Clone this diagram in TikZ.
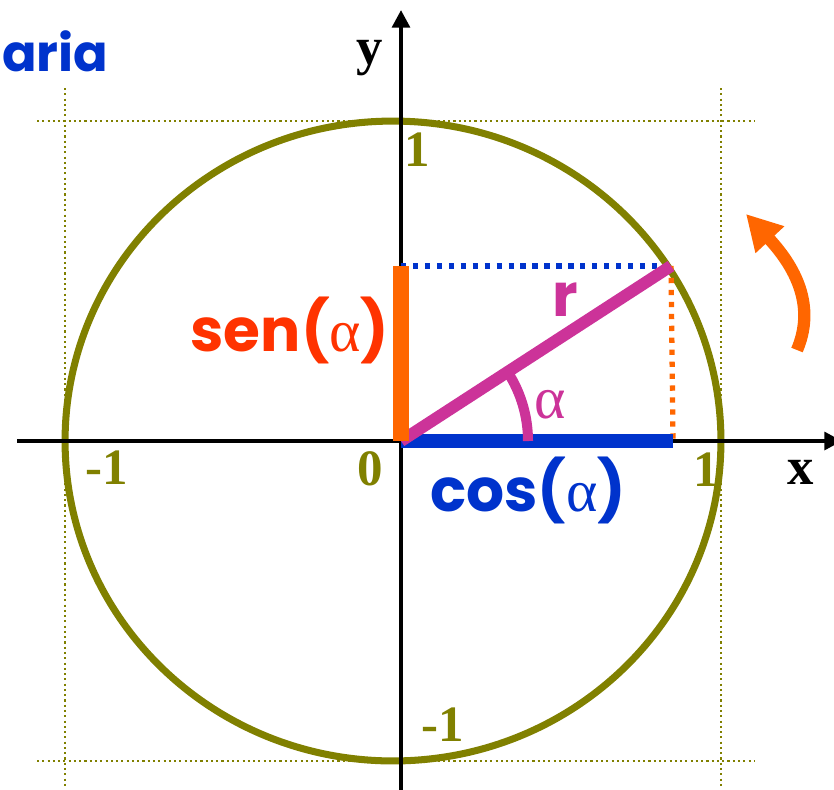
\documentclass[tikz,border=0pt]{standalone}
\usepackage{fontspec}
\usepackage{xcolor}
\usepackage{tikz}
\usetikzlibrary{arrows.meta}
\newfontfamily\comicfont{Poppins}
\newfontfamily\timesfont{Liberation Serif}
\definecolor{olivo}{HTML}{808000}
\definecolor{naranja}{HTML}{FF6600}
\definecolor{rojizo}{HTML}{FF3300}
\definecolor{azul}{HTML}{0033CC}
\definecolor{rosa}{HTML}{CC3399}
\newcommand{\alfa}{{\timesfont\mdseries α}}

\begin{document}
\begin{tikzpicture}[x=0.02cm, y=-0.02cm,
  guia/.style={olivo, line width=1.3pt, dash pattern=on 1.2pt off 1.8pt},
  eje/.style={line width=2.3pt, -{Triangle[length=10pt, width=10pt]}},
  numero/.style={olivo, font=\timesfont\bfseries\fontsize{29}{29}\selectfont},
  letra/.style={font=\timesfont\bfseries\fontsize{30}{30}\selectfont},
  etiqueta/.style={font=\comicfont\bfseries\fontsize{34}{34}\selectfont},
  proyeccion/.style={line width=3pt, dash pattern=on 3pt off 3.8pt}]
  \useasboundingbox (0,0) rectangle (834,789);

  % guias de la circunferencia
  \draw[guia] (37,121) -- (755,121);
  \draw[guia] (37,761) -- (755,761);
  \draw[guia] (65,88) -- (65,789);
  \draw[guia] (721,88) -- (721,789);

  % valores en los ejes
  \node[numero] (uno y) at (417,150) {1};
  \node[numero] (cero) at (370,469) {0};
  \node[numero] (menos x) at (107,468) {-1};
  \node[numero] (uno x) at (706,470) {1};
  \node[numero] (menos y) at (443,725) {-1};

  \draw[olivo, line width=4pt] (393,441) ellipse [x radius=6.56cm, y radius=6.4cm];

  % ejes
  \coordinate (O) at (401,441);
  \coordinate (xa) at (17,441);
  \coordinate (xb) at (842,441);
  \coordinate (ya) at (401,795);
  \coordinate (yb) at (401,10);
  \draw[eje] (xa) -- (xb);
  \draw[eje] (ya) -- (yb);
  \node[letra] (eje x) at (801,472) {x};
  \node[letra] (eje y) at (370,58) {y};

  % punto sobre la circunferencia y sus proyecciones
  \coordinate (P) at (671,266);
  \coordinate (Py) at (401,266);
  \coordinate (Px) at (673,441);
  \draw[azul, proyeccion] (Py) -- (P);
  \draw[naranja, proyeccion] (P) -- (Px);
  \draw[azul, line width=8.5pt] (O) -- (Px);
  \draw[rosa, line width=6.8pt] (O) -- (P);
  \draw[rosa, line width=5.7pt] (528,441) arc[start angle=0, end angle=33, radius=2.54cm];
  \draw[naranja, line width=9pt] (O) -- (Py);

  \node[etiqueta, text=rojizo] (seno) at (290,330) {sen(\alfa)};
  \node[etiqueta, text=azul] (coseno) at (528,490) {cos(\alfa)};
  \node[etiqueta, text=rosa] (radio) at (565,300) {r};
  \node[etiqueta, text=rosa] (angulo) at (550,405) {\alfa};
  \node[etiqueta, text=azul, font=\comicfont\bfseries\fontsize{29}{29}\selectfont,
    inner sep=0pt, anchor=base west] (titulo) at (2,71) {aria};

  % sentido de giro
  \coordinate (giro a) at (797,350);
  \coordinate (giro b) at (746,214);
  \draw[naranja, line width=7pt, -{Triangle[length=20pt, width=21pt]}]
    (giro a) .. controls (814,310) and (800,272) .. (giro b);
\end{tikzpicture}
\end{document}
